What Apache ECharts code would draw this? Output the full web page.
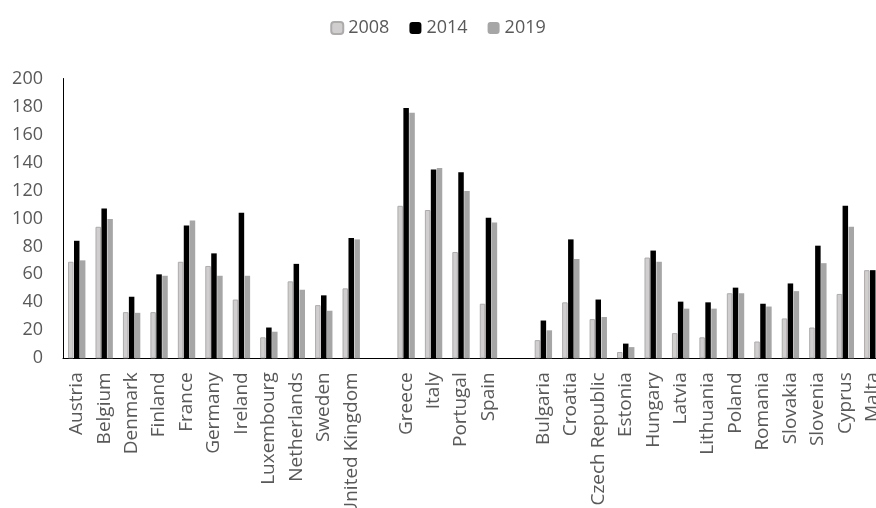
<!DOCTYPE html>
<html>
<head>
<meta charset="utf-8">
<script src="https://cdn.jsdelivr.net/npm/echarts@6/dist/echarts.min.js"></script>
<style>
html,body{margin:0;padding:0;background:#fff;}
#chart{width:876px;height:508px;}
</style>
</head>
<body>
<div id="chart"></div>
<script>
const categories = ['Austria','Belgium','Denmark','Finland','France','Germany','Ireland','Luxembourg','Netherlands','Sweden','United Kingdom','',
  'Greece','Italy','Portugal','Spain','',
  'Bulgaria','Croatia','Czech Republic','Estonia','Hungary','Latvia','Lithuania','Poland','Romania','Slovakia','Slovenia','Cyprus','Malta'];
const s2008 = [69,94,33,33,69,66,42,15,55,38,50,null,109,106,76,39,null,13,40,28,4.5,72,18,15,46.5,12,28.5,22,46,63];
const s2014 = [84,107,44,60,95,75,104,22,67.5,45,86,null,179,135,133,100.5,null,27,85,42,10.5,77,40.5,40,50.5,39,53.5,80.5,109,63];
const s2019 = [70,99.5,32.5,59,98.5,59,59,19,49,34,85,null,175.5,136,119.5,97,null,20,71,29.5,8,69,35.5,35.5,46.5,37,48,68,94,62];
const yTicks = {min:0, max:200, interval:20};

const chart = echarts.init(document.getElementById('chart'));
const txt = '#595959';
const font = 'Open Sans';
chart.setOption({
  animation:false,
  legend:{
    top:14, left:'center', itemWidth:12, itemHeight:12, itemGap:20,
    textStyle:{color:txt, fontSize:18, fontFamily:font},
    data:['2008','2014','2019']
  },
  grid:{left:63, width:823.5, top:78.5, bottom:149.7, outerBoundsMode:'none', containLabel:false},
  xAxis:{
    type:'category', data:categories,
    axisLine:{lineStyle:{color:'#000', width:1}},
    axisTick:{show:false},
    axisLabel:{rotate:90, interval:0, margin:14, color:txt, fontSize:19, fontFamily:font}
  },
  yAxis:{
    type:'value', min:yTicks.min, max:yTicks.max, interval:yTicks.interval,
    axisLine:{show:true, lineStyle:{color:'#000', width:1}},
    axisTick:{show:false},
    splitLine:{show:false},
    axisLabel:{margin:20, color:txt, fontSize:18, fontFamily:font}
  },
  series:[
    {name:'2008', type:'bar', data:s2008, barWidth:5.5, barGap:'8%',
     itemStyle:{color:'#D0CECE', borderColor:'#AEABAB', borderWidth:1}},
    {name:'2014', type:'bar', data:s2014, barWidth:5.5, barGap:'8%',
     itemStyle:{color:'#000000'}},
    {name:'2019', type:'bar', data:s2019, barWidth:5.5, barGap:'8%',
     itemStyle:{color:'#A6A6A6'}}
  ]
});
</script>
</body>
</html>
